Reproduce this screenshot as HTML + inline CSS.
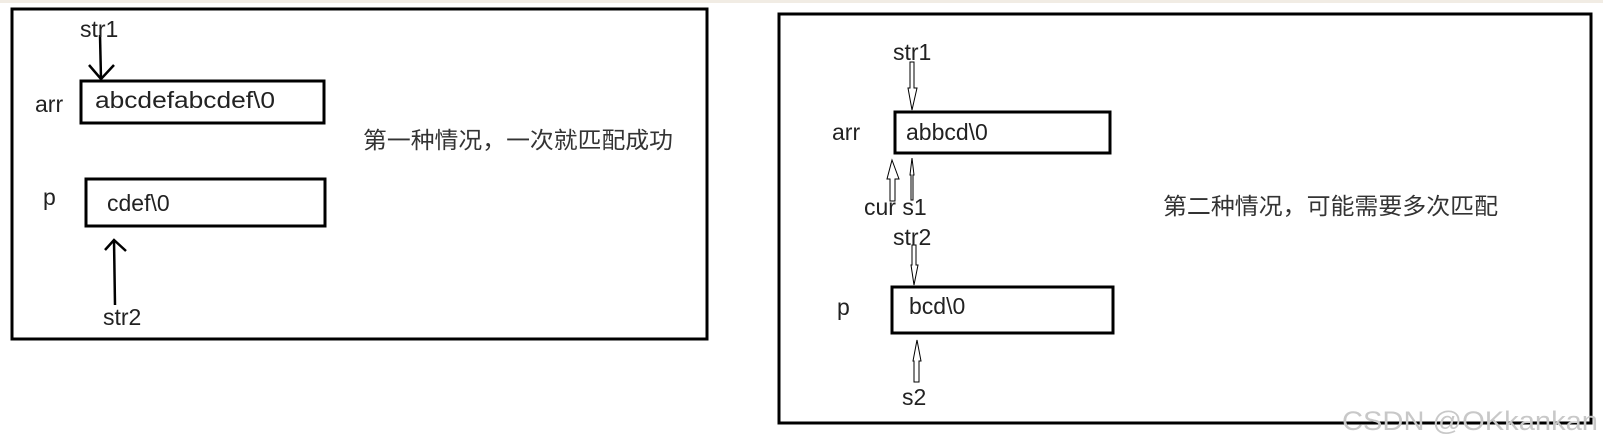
<!DOCTYPE html>
<html><head><meta charset="utf-8"><style>
html,body{margin:0;padding:0;background:#fff;}
body{width:1603px;height:447px;position:relative;overflow:hidden;font-family:"Liberation Sans","Noto Sans CJK SC",sans-serif;}
</style></head><body>
<svg width="1603" height="447" xmlns="http://www.w3.org/2000/svg" style="position:absolute;left:0;top:0">
<rect x="0" y="0" width="1603" height="3" fill="#f1ece4"/>
<g fill="none" stroke="#000" stroke-width="3">
<rect x="12" y="9" width="695" height="330"/>
<rect x="779" y="14" width="812" height="409"/>
<rect x="81" y="81" width="243" height="42"/>
<rect x="86" y="179" width="239" height="47"/>
<rect x="895" y="112" width="215" height="41"/>
<rect x="892" y="287" width="221" height="46"/>
</g>
<g stroke="#000" stroke-width="2.5" fill="none">
<line x1="100" y1="35" x2="101" y2="79"/>
<polyline points="89,65 101,79 114,65"/>
<line x1="115" y1="305" x2="114" y2="240"/>
<polyline points="105,250 114,240 126,251"/>
</g>
<g stroke="#000" stroke-width="1" fill="#fff">
<polygon points="910,62 914,62 914,88 917,88 912,110 908,88 910,88"/>
<polygon points="890,201 895,201 895,179 899,179 892,160 887,179 890,179"/>
<polygon points="911,200 913,200 913,175 914,175 912,158 910,175 911,175"/>
<polygon points="912,245 916,245 916,265 918,265 914,285 911,265 912,265"/>
<polygon points="914,382 919,382 919,361 921,361 917,340 913,361 914,361"/>
</g>
<g font-family="Liberation Sans, Noto Sans CJK SC, sans-serif" font-size="23" fill="#222">
<text x="80" y="37">str1</text>
<text x="35" y="112">arr</text>
<text x="95" y="108" textLength="180" lengthAdjust="spacingAndGlyphs">abcdefabcdef\0</text>
<text x="43" y="205">p</text>
<text x="107" y="211">cdef\0</text>
<text x="103" y="325">str2</text>
<text x="893" y="60">str1</text>
<text x="832" y="140">arr</text>
<text x="906" y="140">abbcd\0</text>
<text x="864" y="215">cur s1</text>
<text x="893" y="245">str2</text>
<text x="837" y="315">p</text>
<text x="909" y="314">bcd\0</text>
<text x="902" y="405">s2</text>
</g>
<g font-family="Liberation Sans, Noto Sans CJK SC, sans-serif" font-size="23" fill="#333">
<text x="363" y="148" textLength="310" lengthAdjust="spacingAndGlyphs">第一种情况，一次就匹配成功</text>
<text x="1163" y="214" textLength="335" lengthAdjust="spacingAndGlyphs">第二种情况，可能需要多次匹配</text>
</g>
<text x="1342" y="430" font-family="Liberation Sans, sans-serif" font-size="27" fill="#c8c8c8" textLength="256" lengthAdjust="spacingAndGlyphs">CSDN @OKkankan</text>
</svg>
</body></html>
